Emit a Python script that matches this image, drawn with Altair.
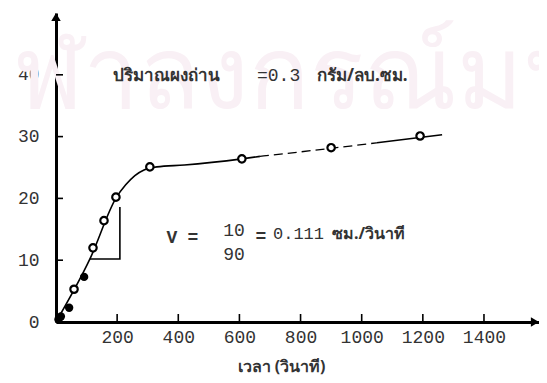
import altair as alt
import pandas as pd

# ---------------- data ----------------
open_x = [59, 121, 157, 196, 307, 608, 900, 1191]
open_y = [5.3, 12.0, 16.4, 20.2, 25.1, 26.4, 28.2, 30.1]
solid_x = [8, 16, 43, 92]
solid_y = [0.4, 0.9, 2.3, 7.3]

# fitted curve (solid, dashed, solid)
curve_a_x = [0, 111, 198, 228, 258, 288, 330, 420, 608, 667]
curve_a_y = [0, 10.2, 20.2, 22.2, 23.7, 24.6, 25.1, 25.4, 26.4, 26.8]
curve_b_x = [667, 900, 1050]
curve_b_y = [26.8, 28.1, 29.0]
curve_c_x = [1050, 1263]
curve_c_y = [29.0, 30.3]

# slope triangle
tri_x = [111, 209, 209]
tri_y = [10.2, 10.2, 18.6]

x_ticks = [200, 400, 600, 800, 1000, 1200, 1400]
y_ticks = [0, 10, 20, 30, 40]
X_MAX = 1580
Y_MAX = 50

x_title = "เวลา (วินาที)"
t1_thai = "ปริมาณผงถ่าน"
t1_num = "=0.3"
t1_unit = "กรัม/ลบ.ซม."
t2_v = "V"
t2_eq = "="
t2_num = "10"
t2_den = "90"
t2_eq2 = "="
t2_val = "0.111"
t2_unit = "ซม./วินาที"
watermark = "จุฬาลงกรณ์มหาวิทยาลัย"

W, H = 483, 309
MONO = "Liberation Mono"
THAI = "Noto Sans"
INK = "#333333"

xs = alt.Scale(domain=[0, X_MAX], nice=False, zero=True)
ys = alt.Scale(domain=[0, Y_MAX], nice=False, zero=True)

def df(xv, yv):
    return pd.DataFrame({"x": xv, "y": yv, "o": list(range(len(xv)))})

ax_x = alt.Axis(values=x_ticks, ticks=False, grid=False, domainWidth=3, domainColor="black",
                format="d",
                labelFont=MONO, labelFontSize=18, labelColor=INK, labelPadding=6,
                title=x_title, titleFont=THAI, titleFontSize=16, titleFontWeight="bold",
                titleColor=INK, titleX=225, titleY=36, titleAnchor="middle")
ax_y = alt.Axis(values=y_ticks, ticks=False, grid=False, domainWidth=3, domainColor="black",
                format="d",
                labelFont=MONO, labelFontSize=18, labelColor=INK, labelPadding=17, title=None)

# faint watermark of the scanned page
wm = alt.Chart(pd.DataFrame({"t": [watermark]})).mark_text(
    align="left", baseline="alphabetic", font=THAI, fontSize=100, color="#f9f0f5"
).encode(x=alt.value(-100), y=alt.value(95), text="t:N")

axes = alt.Chart(df(open_x, open_y)).mark_point(opacity=0).encode(
    x=alt.X("x:Q", scale=xs, axis=ax_x), y=alt.Y("y:Q", scale=ys, axis=ax_y))

def line(xv, yv, dash=None, width=1.6):
    kw = dict(color="black", strokeWidth=width)
    if dash:
        kw["strokeDash"] = dash
    return alt.Chart(df(xv, yv)).mark_line(interpolate="monotone", **kw).encode(
        x=alt.X("x:Q", scale=xs), y=alt.Y("y:Q", scale=ys), order="o:Q")

curve = line(curve_a_x, curve_a_y) + line(curve_b_x, curve_b_y, dash=[9, 5], width=1.3) + line(curve_c_x, curve_c_y)
tri = alt.Chart(df(tri_x, tri_y)).mark_line(color="black", strokeWidth=1.6).encode(
    x=alt.X("x:Q", scale=xs), y=alt.Y("y:Q", scale=ys), order="o:Q")

pts_open = alt.Chart(df(open_x, open_y)).mark_point(
    filled=True, fill="white", stroke="black", strokeWidth=2.2, size=55, opacity=1
).encode(x=alt.X("x:Q", scale=xs), y=alt.Y("y:Q", scale=ys))
pts_solid = alt.Chart(df(solid_x, solid_y)).mark_point(
    filled=True, color="black", size=70, opacity=1
).encode(x=alt.X("x:Q", scale=xs), y=alt.Y("y:Q", scale=ys))

xt = alt.Chart(pd.DataFrame({"x": x_ticks})).mark_rule(color="black", strokeWidth=1.6).encode(
    x=alt.X("x:Q", scale=xs), y=alt.value(H), y2=alt.value(H - 8))
yt = alt.Chart(pd.DataFrame({"y": y_ticks[1:]})).mark_rule(color="black", strokeWidth=1.6).encode(
    y=alt.Y("y:Q", scale=ys), x=alt.value(0), x2=alt.value(7))

arr_up = alt.Chart(pd.DataFrame({"x": [0], "y": [Y_MAX]})).mark_point(
    shape="triangle-up", filled=True, color="black", size=90, opacity=1, yOffset=4
).encode(x=alt.X("x:Q", scale=xs), y=alt.Y("y:Q", scale=ys))
arr_rt = alt.Chart(pd.DataFrame({"x": [X_MAX], "y": [0]})).mark_point(
    shape="triangle-right", filled=True, color="black", size=90, opacity=1, xOffset=-4
).encode(x=alt.X("x:Q", scale=xs), y=alt.Y("y:Q", scale=ys))

def txt(s, px, py, font=MONO, size=18, weight="normal", align="left"):
    return alt.Chart(pd.DataFrame({"t": [s]})).mark_text(
        align=align, baseline="middle", font=font, fontSize=size, fontWeight=weight, color=INK
    ).encode(x=alt.value(px), y=alt.value(py), text="t:N")

texts = (
    txt(t1_thai, 57, 63, font=THAI, size=17, weight="bold")
    + txt(t1_num, 201, 63)
    + txt(t1_unit, 261, 63, font=THAI, size=17, weight="bold")
    + txt(t2_v, 116, 225, weight="bold", align="center")
    + txt(t2_eq, 137, 225, weight="bold", align="center")
    + txt(t2_num, 178, 218, align="center")
    + txt(t2_den, 178, 242, align="center")
    + txt(t2_eq2, 205, 224, weight="bold", align="center")
    + txt(t2_val, 217, 221, size=17)
    + txt(t2_unit, 276, 221, font=THAI, size=16, weight="bold")
)

chart = alt.layer(wm, axes, xt, yt, curve, tri, pts_solid, pts_open, arr_up, arr_rt, texts).properties(
    width=W, height=H,
    autosize=alt.AutoSizeParams(type="none"),
    padding={"left": 48, "top": 5, "right": 0, "bottom": 53},
    background="white",
).configure_view(stroke=None)

chart.save("out.html", embed_options={"renderer": "svg", "actions": False})
